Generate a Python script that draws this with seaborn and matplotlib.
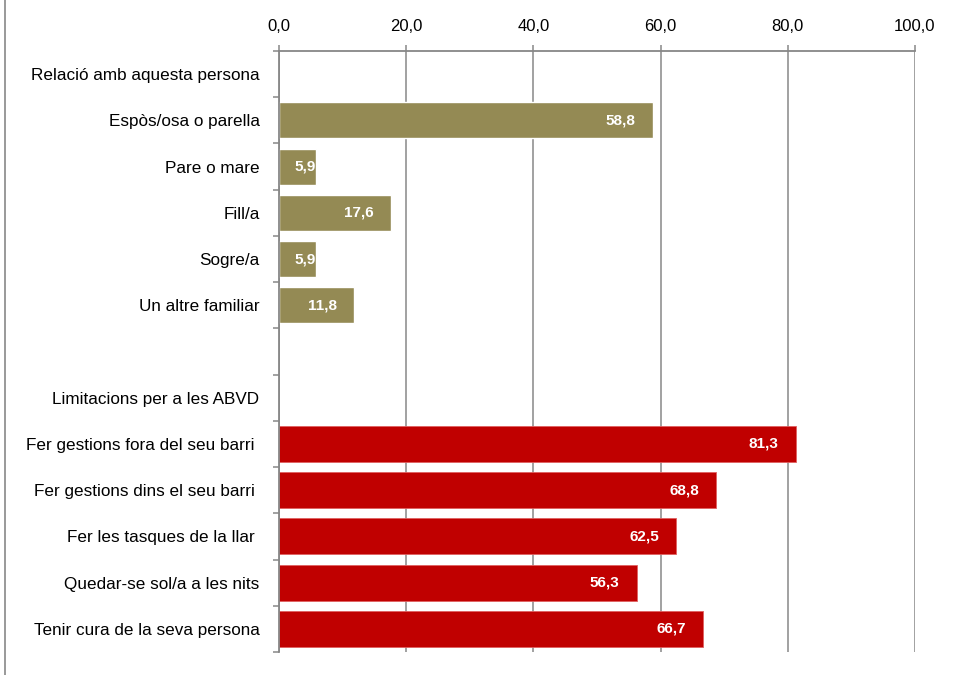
import pandas as pd
import seaborn as sns
import matplotlib.pyplot as plt
from matplotlib.lines import Line2D
from matplotlib.ticker import FixedLocator, FuncFormatter

# --- DADES ---
categories = [
    "Relació amb aquesta persona",
    "Espòs/osa o parella",
    "Pare o mare",
    "Fill/a",
    "Sogre/a",
    "Un altre familiar",
    "",
    "Limitacions per a les ABVD",
    "Fer gestions fora del seu barri ",
    "Fer gestions dins el seu barri ",
    "Fer les tasques de la llar ",
    "Quedar-se sol/a a les nits",
    "Tenir cura de la seva persona",
]
values = [None, 58.8, 5.9, 17.6, 5.9, 11.8, None, None, 81.3, 68.8, 62.5, 56.3, 66.7]
groups = ["rel"] * 7 + ["abvd"] * 6
x_ticks = [0, 20, 40, 60, 80, 100]

COLORS = {"rel": "#948A54", "abvd": "#C00000"}
GRID = "#878787"

sns.set_theme(style="white")
plt.rcParams["font.family"] = ["Liberation Sans", "DejaVu Sans"]

df = pd.DataFrame({"cat": categories, "val": values, "grp": groups})
df["val"] = pd.to_numeric(df["val"])

fig = plt.figure(figsize=(9.62, 6.75), dpi=100)
ax = fig.add_axes([0.290, 0.0341, 0.661, 0.8903])

ax.xaxis.grid(True, color=GRID, linewidth=1.1, zorder=0)
ax.set_axisbelow(True)

sns.barplot(
    data=df, y="cat", x="val", hue="grp", order=categories,
    palette=COLORS, orient="h", dodge=False, legend=False,
    width=0.78, saturation=1, ax=ax, errorbar=None,
)

# bars of the red group get a thin lighter edge
for cont in ax.containers:
    for bar in cont:
        if abs(bar.get_facecolor()[0] - 0.75) < 0.02:
            bar.set_edgecolor("#E06060")
            bar.set_linewidth(0.6)

# etiquetes de valor (blanc, negreta, dins de la barra)
for i, v in enumerate(values):
    if v is None:
        continue
    off = -12.5 if v > 8 else -0.8
    ax.annotate(
        f"{v:.1f}".replace(".", ","), xy=(v, i), xytext=(off, 0),
        textcoords="offset points", ha="right", va="center",
        color="white", fontweight="bold", fontsize=11,
    )

ax.set_xlim(0, 100)
ax.set_ylim(len(categories) - 0.5, -0.5)
ax.xaxis.set_major_locator(FixedLocator(x_ticks))
ax.xaxis.set_major_formatter(FuncFormatter(lambda x, p: f"{x:.1f}".replace(".", ",")))
ax.xaxis.tick_top()
ax.tick_params(axis="x", which="major", top=True, bottom=False, length=4.5, width=1.1,
               color=GRID, pad=8, labelsize=12, labelcolor="black")

ax.set_yticks(range(len(categories)))
ax.set_yticklabels(categories)
ax.yaxis.set_minor_locator(FixedLocator([i - 0.5 for i in range(len(categories) + 1)]))
ax.tick_params(axis="y", which="major", left=True, length=0, pad=14, labelsize=12.3,
               labelcolor="black")
ax.tick_params(axis="y", which="minor", left=True, length=4, width=1.1, color=GRID)

ax.set_xlabel("")
ax.set_ylabel("")

for side in ["right", "bottom"]:
    ax.spines[side].set_visible(False)
for side in ["top", "left"]:
    ax.spines[side].set_color(GRID)
    ax.spines[side].set_linewidth(1.3)

# vora esquerra del requadre del gràfic
fig.add_artist(Line2D([0.0055, 0.0055], [0, 1], transform=fig.transFigure,
                      color=GRID, linewidth=1.2))

fig.savefig("out.png", dpi=100, facecolor="white")
